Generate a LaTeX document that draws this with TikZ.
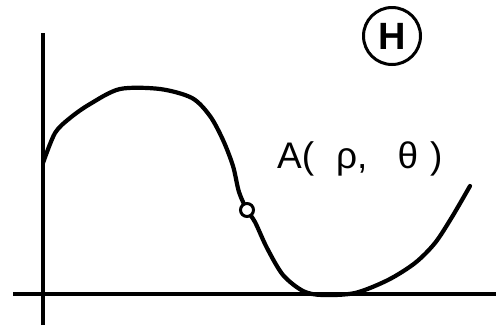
\documentclass[tikz,border=0pt]{standalone}
\usepackage{fontspec}
\setmainfont{Liberation Sans}
\usetikzlibrary{positioning,calc}
\definecolor{Ink}{HTML}{000000}
\tikzset{
  axisline/.style={draw=Ink,line width=4.2pt},
  curveline/.style={draw=Ink,line width=4.2pt,line join=round,line cap=round},
  ptmark/.style={circle,draw=Ink,fill=white,line width=3pt,minimum size=13pt,inner sep=0pt},
  ringmark/.style={circle,draw=Ink,line width=3pt,minimum size=57pt,inner sep=0pt,font=\fontsize{38}{38}\selectfont\bfseries,text=Ink},
  tag/.style={font=\fontsize{37}{40}\selectfont,text=Ink,inner sep=0pt}
}

\begin{document}
\begin{tikzpicture}[x=1pt,y=-1pt]
  \useasboundingbox (0,0) rectangle (496,325);
  % axes
  \coordinate (o) at (43,294);
  \coordinate (ytop) at (43,33);
  \coordinate (ybot) at (43,325);
  \coordinate (xl) at (13,294);
  \coordinate (xr) at (496,294);
  \draw[axisline] (ybot) -- (ytop);
  \draw[axisline] (xl) -- (xr);
  % the curve
  \draw[curveline] plot[smooth,tension=0.5] coordinates {
    (43,163) (55,133) (70,118) (90,104) (120,89) (160,89) (192,98)
    (210,116) (223,140) (233,166) (239,192) (247,210) (255,222)
    (267,248) (283,275) (303,291) (322,295) (355,293) (388,280)
    (415,263) (435,243) (452,217) (470,186)};
  \node[ptmark] (a) at (247,210) {};
  \node[tag,anchor=south west] (alabel) at (277,176)
    {A(\hspace{22pt}ρ,\hspace{30pt}θ\hspace{12pt})};
  \node[ringmark] (h) at (392,36) {H};
\end{tikzpicture}
\end{document}
